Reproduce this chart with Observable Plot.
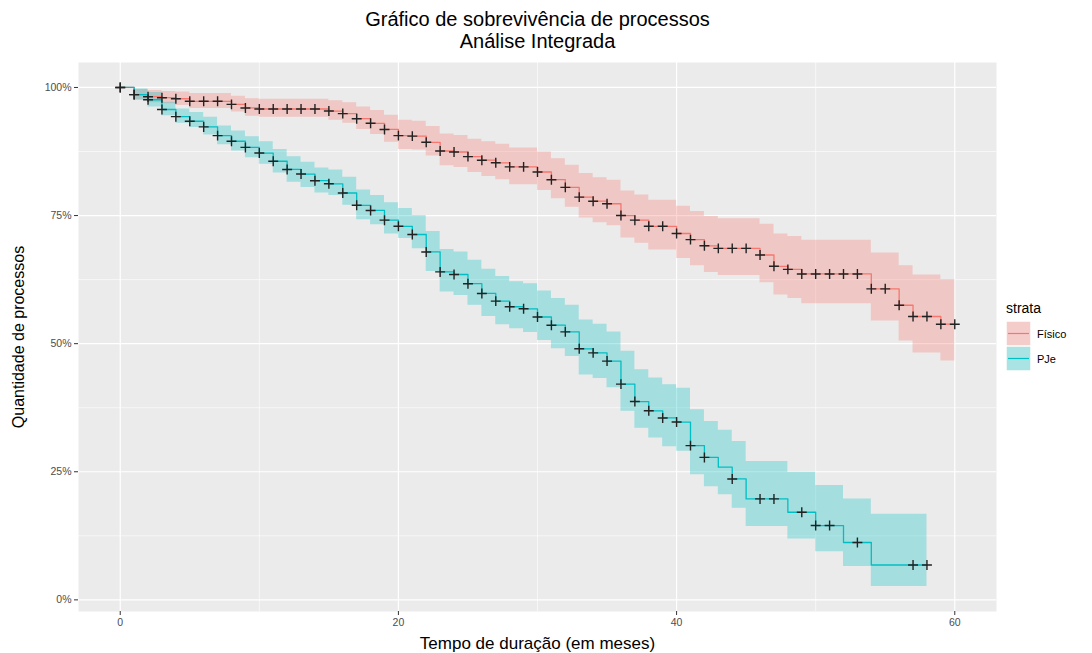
<!DOCTYPE html>
<html><head><meta charset="utf-8">
<script src="https://cdn.jsdelivr.net/npm/d3@7"></script>
<script src="https://cdn.jsdelivr.net/npm/@observablehq/plot@0.6"></script>
<style>
body{margin:0;background:#fff;font-family:"Liberation Sans",Arial,Helvetica,sans-serif;}
#wrap{position:relative;width:1092px;height:653px;}
#legend{position:absolute;left:1006px;top:300px;color:#000;font-family:"Liberation Sans",Arial,sans-serif;}
#legend .ttl{font-size:14px;height:21px;line-height:16px;}
#legend .row{display:flex;align-items:center;height:25px;}
#legend .row span{font-size:11px;margin-left:6px;}
</style></head><body><div id="wrap"></div>
<script>
// ---- data ----
const titleLines = ["Gráfico de sobrevivência de processos", "Análise Integrada"];
const xTitle = "Tempo de duração (em meses)";
const yTitle = "Quantidade de processos";
const legendTitle = "strata";
const strataNames = ["Físico", "PJe"];
const strataColors = ["#F8766D", "#00BFC4"];

const xTicks = [0, 20, 40, 60];
const xMinor = [10, 30, 50];
const yTicks = [0, 25, 50, 75, 100];
const yMinor = [12.5, 37.5, 62.5, 87.5];

const fisicoTime = [0,1,2,3,4,5,6,7,8,9,10,11,12,13,14,15,16,17,18,19,20,21,22,23,24,25,26,27,28,29,30,31,32,33,34,35,36,37,38,39,40,41,42,43,44,45,46,47,48,49,50,51,52,53,54,55,56,57,58,59,60];
const fisicoSurv = [100,98.6,98.2,98.0,97.8,97.3,97.3,97.3,96.7,96.0,
  95.8,95.8,95.8,95.8,95.8,95.4,94.9,93.9,93.0,91.8,
  90.6,90.5,89.3,87.6,87.4,86.5,85.8,85.3,84.5,84.5,
  83.5,82.0,80.5,78.6,77.8,77.3,75.0,74.1,72.9,72.9,
  71.5,70.3,69.1,68.6,68.6,68.6,67.3,65.1,64.5,63.6,
  63.6,63.6,63.6,63.6,60.7,60.7,57.5,55.3,55.3,53.8,53.8];
const fisicoUpper = [100,99.6,99.4,99.2,99.1,98.8,98.8,98.8,98.3,97.8,
  97.7,97.7,97.7,97.7,97.7,97.4,97.0,96.2,95.5,94.6,
  93.6,93.4,92.4,90.9,90.6,89.9,89.4,88.9,88.2,88.2,
  87.4,86.1,84.8,83.2,82.4,81.9,79.8,79.0,78.0,78.0,
  76.8,75.8,74.8,74.4,74.4,74.4,73.3,71.4,70.9,70.2,
  70.2,70.2,70.2,70.2,67.7,67.7,65.2,63.4,63.4,62.5,62.5];
const fisicoLower = [100,97.6,97.0,96.8,96.5,95.9,95.9,95.9,95.2,94.4,
  94.2,94.2,94.2,94.2,94.2,93.6,93.0,91.8,90.8,89.3,
  87.9,87.8,86.6,84.7,84.4,83.4,82.6,82.0,81.0,81.0,
  79.9,78.3,76.6,74.5,73.6,73.0,70.6,69.6,68.3,68.3,
  66.6,65.2,63.9,63.3,63.3,63.3,61.9,59.5,58.8,57.8,
  57.8,57.8,57.8,57.8,54.4,54.4,50.5,48.2,48.2,46.6,46.6];
const fisicoCensor = [0,1,2,3,4,5,6,7,8,9,10,11,12,13,14,15,16,17,18,19,20,21,22,23,24,25,26,27,28,29,30,31,32,33,34,35,36,37,38,39,40,41,42,43,44,45,46,47,48,49,50,51,52,53,54,55,56,57,58,59,60];

const pjeTime = [0,1,2,3,4,5,6,7,8,9,10,11,12,13,14,15,16,17,18,19,20,21,22,23,24,25,26,27,28,29,30,31,32,33,34,35,36,37,38,39,40,41,42,43,44,45,46,47,48,49,50,51,52,53,54,55,56,57,58];
const pjeSurv = [100,98.6,97.6,95.7,94.3,93.4,92.3,90.6,89.5,88.3,
  87.2,85.6,84.0,83.1,81.8,81.2,79.4,77.0,76.0,74.1,
  72.9,71.3,67.9,64.0,63.5,61.7,59.8,58.3,57.2,56.8,
  55.2,53.6,52.3,49.0,48.2,46.6,42.1,38.7,36.9,35.5,
  34.7,30.1,27.8,25.9,23.6,19.7,19.7,19.7,17.1,17.1,
  14.5,14.5,11.2,11.2,6.8,6.8,6.8,6.8,6.8];
const pjeUpper = [100,99.7,99.0,97.1,95.8,95.1,94.2,92.5,91.5,90.4,
  89.4,87.9,86.5,85.4,84.3,83.9,82.5,80.0,78.9,77.5,
  76.4,75.0,71.9,68.4,67.9,66.3,64.5,63.1,62.1,61.7,
  60.3,58.8,57.5,54.6,53.8,52.3,48.5,44.9,43.3,42.0,
  41.3,37.1,34.8,33.1,30.9,27.0,27.0,27.0,24.9,24.9,
  22.3,22.3,19.7,19.7,16.7,16.7,16.7,16.7,16.7];
const pjeLower = [100,97.5,96.2,94.5,93.0,92.2,90.7,88.8,87.6,86.3,
  85.0,83.3,81.5,80.5,79.4,78.9,77.0,74.2,73.2,71.4,
  70.5,68.5,64.1,60.1,59.4,57.5,55.3,53.7,52.9,52.2,
  50.6,49.0,47.5,43.9,43.2,41.4,36.8,33.5,31.6,29.9,
  29.0,24.4,22.1,20.5,17.9,14.3,14.3,14.3,11.9,11.9,
  9.4,9.4,6.5,6.5,2.6,2.6,2.6,2.6,2.6];
const pjeCensor = [0,1,2,3,4,5,6,7,8,9,10,11,12,13,14,15,16,17,18,19,20,21,22,23,24,25,26,27,28,29,30,31,32,33,34,35,36,37,38,39,40,41,42,44,46,47,49,50,51,53,57,58];

// ---- tables ----
const fisico = fisicoTime.map((t, i) => ({t, s: fisicoSurv[i], lo: fisicoLower[i], hi: fisicoUpper[i]}));
const pje = pjeTime.map((t, i) => ({t, s: pjeSurv[i], lo: pjeLower[i], hi: pjeUpper[i]}));
const fisicoC = fisicoCensor.map(t => ({t, s: fisicoSurv[fisicoTime.indexOf(t)]}));
const pjeC = pjeCensor.map(t => ({t, s: pjeSurv[pjeTime.indexOf(t)]}));

// ggplot-like 5% expansion
const allT = fisicoTime.concat(pjeTime);
const tMin = d3.min(allT), tMax = d3.max(allT);
const yMinD = d3.min(fisicoLower.concat(pjeLower)), yMaxD = d3.max(fisicoUpper.concat(pjeUpper));
const xPad = (tMax - tMin) * 0.05, yPad = (yMaxD - yMinD) * 0.05;

const font = '"Liberation Sans", Arial, Helvetica, sans-serif';
const chart = Plot.plot({
  width: 1092, height: 653,
  marginLeft: 78, marginRight: 96, marginTop: 62, marginBottom: 42,
  x: {domain: [tMin - xPad, tMax + xPad], axis: null},
  y: {domain: [yMinD - yPad, yMaxD + yPad], axis: null},
  style: {fontFamily: font, background: "#fff", overflow: "visible"},
  marks: [
    Plot.frame({fill: "#EBEBEB", stroke: "none"}),
    Plot.ruleY(yMinor, {stroke: "#fff", strokeWidth: 0.6}),
    Plot.ruleX(xMinor, {stroke: "#fff", strokeWidth: 0.6}),
    Plot.ruleY(yTicks, {stroke: "#fff", strokeWidth: 1.2}),
    Plot.ruleX(xTicks, {stroke: "#fff", strokeWidth: 1.2}),
    Plot.areaY(fisico, {x: "t", y1: "lo", y2: "hi", curve: "step-after", fill: strataColors[0], fillOpacity: 0.3}),
    Plot.areaY(pje, {x: "t", y1: "lo", y2: "hi", curve: "step-after", fill: strataColors[1], fillOpacity: 0.3}),
    Plot.line(fisico, {x: "t", y: "s", curve: "step-after", stroke: strataColors[0], strokeWidth: 1.3}),
    Plot.line(pje, {x: "t", y: "s", curve: "step-after", stroke: strataColors[1], strokeWidth: 1.3}),
    Plot.dot(fisicoC, {x: "t", y: "s", symbol: "plus", r: 3.3, stroke: "#222", strokeWidth: 1.4}),
    Plot.dot(pjeC, {x: "t", y: "s", symbol: "plus", r: 3.3, stroke: "#222", strokeWidth: 1.4}),
    Plot.axisX({ticks: xTicks, tickSize: 4, tickPadding: 3, stroke: "#333", fill: "#4D4D4D", fontSize: 10.5, label: null, anchor: "bottom"}),
    Plot.axisY({ticks: yTicks, tickSize: 4, tickPadding: 3, stroke: "#333", fill: "#4D4D4D", fontSize: 10.5, label: null, anchor: "left", tickFormat: d => d + "%"}),
    Plot.text([titleLines[0]], {frameAnchor: "top", lineAnchor: "middle", textAnchor: "middle", dy: -43, fontSize: 20, fill: "#000"}),
    Plot.text([titleLines[1]], {frameAnchor: "top", lineAnchor: "middle", textAnchor: "middle", dy: -21, fontSize: 20, fill: "#000"}),
    Plot.text([xTitle], {frameAnchor: "bottom", lineAnchor: "middle", textAnchor: "middle", dy: 32, fontSize: 17, fill: "#000"}),
    Plot.text([yTitle], {frameAnchor: "left", lineAnchor: "middle", textAnchor: "middle", dx: -60, rotate: -90, fontSize: 16, fill: "#000"})
  ]
});
const wrap = document.getElementById("wrap");
wrap.appendChild(chart);

// legend
const lg = document.createElement("div");
lg.id = "legend";
let html = `<div class="ttl">${legendTitle}</div>`;
strataNames.forEach((name, i) => {
  html += `<div class="row"><svg width="25" height="25"><rect x="0" y="0" width="25" height="25" fill="#F2F2F2" stroke="#fff" stroke-width="1.5"/><rect x="0.75" y="0.75" width="23.5" height="23.5" fill="${strataColors[i]}" fill-opacity="0.3"/><line x1="2" x2="23" y1="12.5" y2="12.5" stroke="${strataColors[i]}" stroke-width="1.2"/></svg><span>${name}</span></div>`;
});
lg.innerHTML = html;
wrap.appendChild(lg);
</script></body></html>
